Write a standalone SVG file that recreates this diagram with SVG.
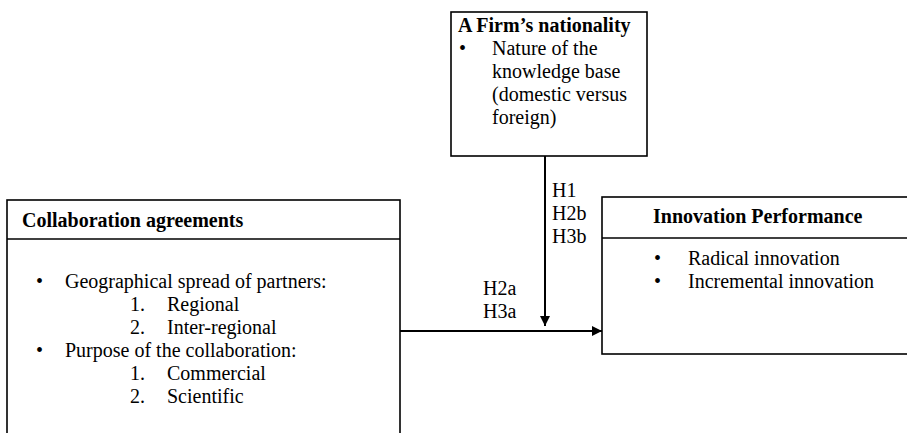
<svg xmlns="http://www.w3.org/2000/svg" width="907" height="433" viewBox="0 0 907 433">
<style>
text{font-family:"Liberation Serif","Times New Roman",serif;font-size:20px;fill:#000}
.b{font-weight:bold}
.box{fill:#fff;stroke:#000;stroke-width:1.6}
.div{stroke:#000;stroke-width:1.6}
.con{stroke:#000;stroke-width:2;fill:none}
</style>
<defs>
<marker id="ah" viewBox="0 0 10 10" refX="10" refY="5" markerWidth="10" markerHeight="10" markerUnits="userSpaceOnUse" orient="auto">
<path d="M0,0 L10,5 L0,10 z" fill="#000"/>
</marker>
</defs>
<rect width="907" height="433" fill="#fff"/>
<g id="nationality">
<rect class="box" x="451" y="12" width="196" height="144"/>
<text class="b" x="458" y="32">A Firm’s nationality</text>
<text x="459" y="55">•</text>
<text x="492" y="55">Nature of the</text>
<text x="492" y="78">knowledge base</text>
<text x="492" y="101">(domestic versus</text>
<text x="492" y="124">foreign)</text>
</g>
<g id="collaboration">
<rect class="box" x="7" y="200" width="393" height="260"/>
<line class="div" x1="7" y1="239" x2="400" y2="239"/>
<text class="b" x="22" y="227">Collaboration agreements</text>
<text x="36" y="288">•</text>
<text x="65" y="288">Geographical spread of partners:</text>
<text x="130" y="311">1.</text>
<text x="167" y="311">Regional</text>
<text x="130" y="334">2.</text>
<text x="167" y="334">Inter-regional</text>
<text x="36" y="357">•</text>
<text x="65" y="357">Purpose of the collaboration:</text>
<text x="130" y="380">1.</text>
<text x="167" y="380">Commercial</text>
<text x="130" y="403">2.</text>
<text x="167" y="403">Scientific</text>
</g>
<g id="innovation">
<rect class="box" x="602" y="197" width="320" height="157"/>
<line class="div" x1="602" y1="238" x2="922" y2="238"/>
<text class="b" x="653" y="223">Innovation Performance</text>
<text x="654" y="265">•</text>
<text x="688" y="265">Radical innovation</text>
<text x="654" y="288">•</text>
<text x="688" y="288">Incremental innovation</text>
</g>
<g id="connectors">
<line class="con" x1="545" y1="156" x2="545" y2="326" marker-end="url(#ah)"/>
<line class="con" x1="400" y1="331" x2="602" y2="331" marker-end="url(#ah)"/>
<text x="552" y="197">H1</text>
<text x="552" y="220">H2b</text>
<text x="552" y="243">H3b</text>
<text x="483" y="295">H2a</text>
<text x="483" y="318">H3a</text>
</g>
</svg>
